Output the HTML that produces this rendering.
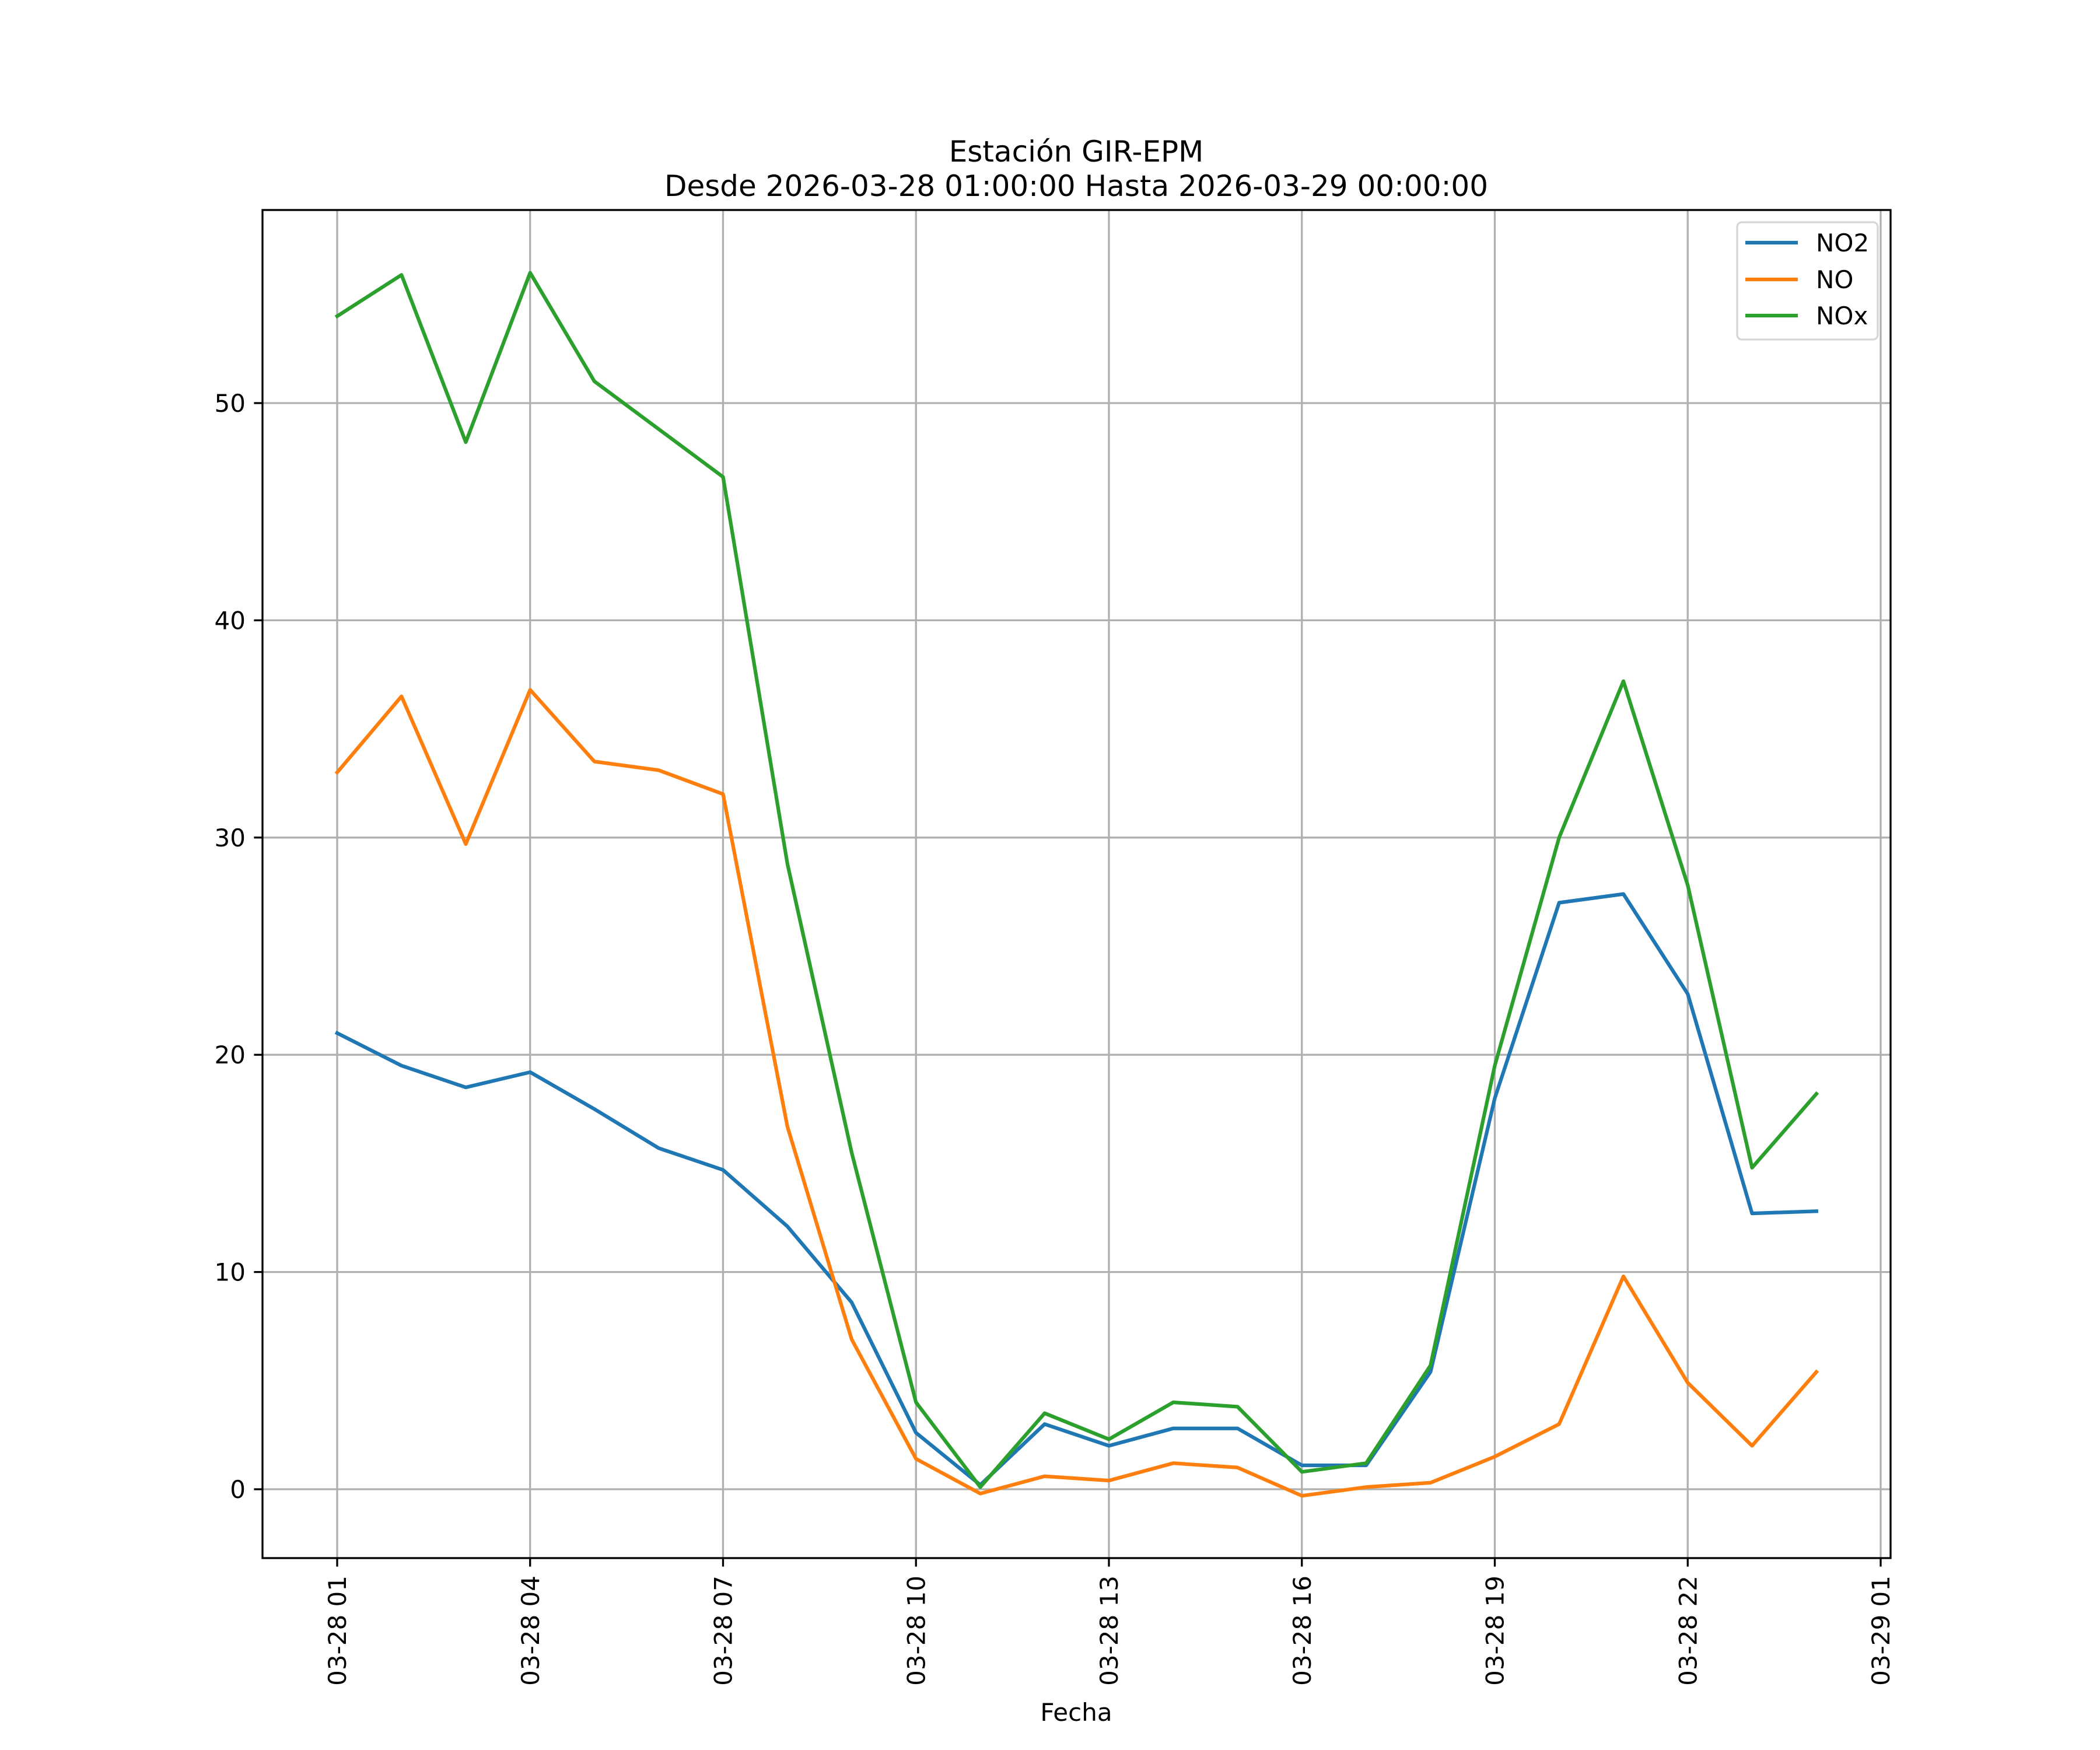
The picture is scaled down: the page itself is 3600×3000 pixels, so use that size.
<!DOCTYPE html>
<html><head><meta charset="utf-8"><style>
html,body{margin:0;padding:0;background:#fff}
svg{display:block;font-family:"DejaVu Sans","Liberation Sans",sans-serif}
</style></head><body>
<svg id="chart" width="3600" height="3000" viewBox="0 0 3600 3000" xmlns="http://www.w3.org/2000/svg">
<rect width="3600" height="3000" fill="#fff"/>
<g id="grid"></g>
<g id="series"></g>
<rect x="450" y="360" width="2791" height="2311" fill="none" stroke="#000" stroke-width="3.3"/>
<g id="axes"></g>
<text x="1845" y="277" font-size="50" text-anchor="middle">Estación GIR-EPM</text>
<text x="1845" y="336" font-size="50" text-anchor="middle">Desde 2026-03-28 01:00:00 Hasta 2026-03-29 00:00:00</text>
<text x="1845" y="2950" font-size="42" text-anchor="middle">Fecha</text>
<g>
<rect x="2978" y="381" width="241" height="201" rx="8" fill="#fff" fill-opacity="0.8" stroke="#d6d6d6" stroke-width="3.3"/>
<g><line x1="2992" y1="416" x2="3082" y2="416" stroke="#1f77b4" stroke-width="6.25"/><text x="3113" y="431" font-size="42">NO2</text></g>
<g><line x1="2992" y1="479" x2="3082" y2="479" stroke="#ff7f0e" stroke-width="6.25"/><text x="3113" y="494" font-size="42">NO</text></g>
<g><line x1="2992" y1="541" x2="3082" y2="541" stroke="#2ca02c" stroke-width="6.25"/><text x="3113" y="556" font-size="42">NOx</text></g>
</g>
</svg>
<script>
const hours = [0,1,2,3,4,5,6,7,8,9,10,11,12,13,14,15,16,17,18,19,20,21,22,23];
const no2 = [21.0,19.5,18.5,19.2,17.5,15.7,14.7,12.1,8.6,2.6,0.2,3.0,2.0,2.8,2.8,1.1,1.1,5.4,18.0,27.0,27.4,22.8,12.7,12.8];
const no = [33.0,36.5,29.7,36.8,33.5,33.1,32.0,16.7,6.9,1.4,-0.2,0.6,0.4,1.2,1.0,-0.3,0.1,0.3,1.5,3.0,9.8,4.9,2.0,5.4];
const nox = [54.0,55.9,48.2,56.0,51.0,48.8,46.6,28.8,15.5,4.0,0.1,3.5,2.3,4.0,3.8,0.8,1.2,5.7,19.5,30.0,37.2,27.8,14.8,18.2];
const yTicks = [0,10,20,30,40,50];
const xTickHours = [0,3,6,9,12,15,18,21,24];
const xTickLabels = ["03-28 01","03-28 04","03-28 07","03-28 10","03-28 13","03-28 16","03-28 19","03-28 22","03-29 01"];

const NS = "http://www.w3.org/2000/svg";
const L = 450, R = 3241, T = 360, B = 2671;
function xs(h){ return 578 + h * (3224 - 578) / 24; }
function ys(v){ return 2553 - v * (2553 - 691) / 50; }
function mk(tag, attrs, parent){ const e = document.createElementNS(NS, tag); for (const k in attrs) e.setAttribute(k, attrs[k]); parent.appendChild(e); return e; }
const grid = document.getElementById('grid'), axes = document.getElementById('axes'), series = document.getElementById('series');

yTicks.forEach(v => {
  const y = ys(v);
  const g = mk('line', {x1:L, x2:R, y1:y, y2:y, stroke:'#b0b0b0', 'stroke-width':3.3}, grid);
  
  
  const t = mk('line', {x1:L-14.6, x2:L, y1:y, y2:y, stroke:'#000', 'stroke-width':3.3}, axes);
  
  
  const tx = mk('text', {x:L-29, y:y+15, 'font-size':42, 'text-anchor':'end'}, axes);
  tx.textContent = v;
  
  
});
xTickHours.forEach((h, i) => {
  const x = xs(h);
  const g = mk('line', {x1:x, x2:x, y1:T, y2:B, stroke:'#b0b0b0', 'stroke-width':3.3}, grid);
  
  
  const t = mk('line', {x1:x, x2:x, y1:B, y2:B+14.6, stroke:'#000', 'stroke-width':3.3}, axes);
  
  
  const tx = mk('text', {x:0, y:0, 'font-size':42, 'text-anchor':'end', transform:`translate(${x+15},${B+30}) rotate(-90)`}, axes);
  tx.textContent = xTickLabels[i];
  
  
});
[[no2,'#1f77b4','no2-line'],[no,'#ff7f0e','no-line'],[nox,'#2ca02c','nox-line']].forEach(([d,c,n]) => {
  const pts = d.map((v,i) => xs(hours[i]).toFixed(1) + ',' + ys(v).toFixed(1)).join(' ');
  const p = mk('polyline', {points:pts, fill:'none', stroke:c, 'stroke-width':6.25, 'stroke-linejoin':'round', 'stroke-linecap':'square'}, series);
  
  
});
</script>
</body></html>
